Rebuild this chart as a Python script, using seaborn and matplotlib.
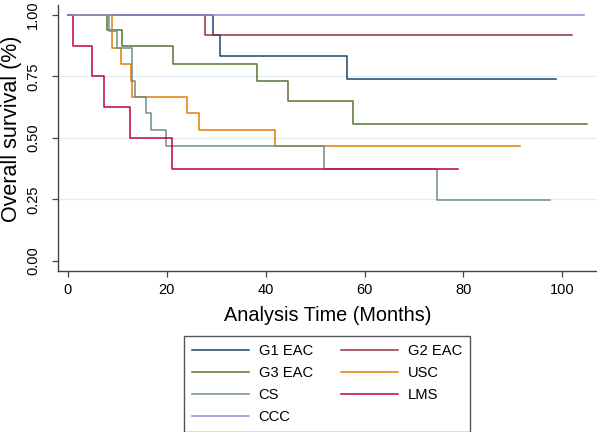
import numpy as np
import pandas as pd
import matplotlib
matplotlib.use("Agg")
import matplotlib.pyplot as plt
import seaborn as sb

# groups and Kaplan-Meier steps (event times in months, survival after each drop)
groups = ["G1 EAC", "G2 EAC", "G3 EAC", "USC", "CS", "LMS", "CCC"]
colors = ["#1a476f", "#90353b", "#55752f", "#e37e00", "#6e8e84", "#c10534", "#938dd2"]

g1_t = [29.4, 30.8, 56.4]
g1_s = [0.917, 0.833, 0.741]
g2_t = [27.8]
g2_s = [0.917]
g3_t = [8.0, 10.9, 21.2, 38.2, 44.5, 57.6]
g3_s = [0.9375, 0.875, 0.80, 0.73, 0.65, 0.555]
usc_t = [8.9, 10.8, 12.8, 13.1, 24.1, 26.5, 41.9]
usc_s = [0.867, 0.80, 0.733, 0.667, 0.60, 0.533, 0.467]
cs_t = [8.3, 9.9, 12.9, 13.7, 15.8, 16.8, 19.8, 51.9, 74.6]
cs_s = [0.933, 0.867, 0.733, 0.667, 0.60, 0.533, 0.467, 0.373, 0.249]
lms_t = [1.1, 4.85, 7.3, 12.5, 21.0]
lms_s = [0.875, 0.75, 0.625, 0.50, 0.375]
ccc_t = []
ccc_s = []

# last follow-up time of each group
end_t = [98.7, 101.9, 104.9, 91.4, 97.4, 78.8, 104.4]

x_ticks = [0, 20, 40, 60, 80, 100]
y_ticks = [0.0, 0.25, 0.5, 0.75, 1.0]

steps_t = [g1_t, g2_t, g3_t, usc_t, cs_t, lms_t, ccc_t]
steps_s = [g1_s, g2_s, g3_s, usc_s, cs_s, lms_s, ccc_s]

# build long table: start at (0, 1), each drop, then carry to the end time
rows = []
for name, ts, ss, te in zip(groups, steps_t, steps_s, end_t):
    rows.append((name, 0.0, 1.0))
    for t, s in zip(ts, ss):
        rows.append((name, t, s))
    last = ss[-1] if len(ss) else 1.0
    rows.append((name, te, last))
df = pd.DataFrame(rows, columns=["grupo", "tempo", "sobrevida"])

plt.rcParams['font.family'] = ['Liberation Sans', 'DejaVu Sans']

fig = plt.figure(figsize=(5.97, 4.32), dpi=100)
ax = fig.add_axes([58 / 597, 1 - 270.7 / 432, 1 - 58 / 597, (270.7 - 5) / 432])

# faint horizontal gridlines like Stata
for yv in y_ticks[1:-1]:
    ax.axhline(yv, color="#e3ecf3", lw=0.9, zorder=0)

sb.lineplot(data=df, x="tempo", y="sobrevida", hue="grupo", hue_order=groups,
            palette=colors, drawstyle="steps-post", estimator=None, sort=False,
            linewidth=1.1, ax=ax, legend=False)

ax.set_xlim(-1.96, 107.0)
ax.set_ylim(-0.0407, 1.0407)
ax.set_xticks(x_ticks)
ax.set_yticks(y_ticks)
ax.set_yticklabels(["%.2f" % v for v in y_ticks], rotation=90, va="center")
ax.tick_params(axis="both", labelsize=10.5, length=4, width=0.9, color="#444444")
ax.tick_params(axis="y", pad=9)
ax.tick_params(axis="x", pad=5)
ax.set_xlabel("Analysis Time (Months)", fontsize=14.3, labelpad=6)
ax.set_ylabel("Overall survival (%)", fontsize=15.5)
ax.yaxis.set_label_coords(-0.067, 0.535)

for lado in ["top", "right"]:
    ax.spines[lado].set_visible(False)
for lado in ["left", "bottom"]:
    ax.spines[lado].set_color("#444444")
    ax.spines[lado].set_linewidth(1.0)

# legend rows: G1/G2, G3/USC, CS/LMS, CCC  (matplotlib fills by column)
ordem = [0, 2, 4, 6, 1, 3, 5]
handles = [plt.Line2D([], [], color=colors[i], lw=1.1) for i in ordem]
labels = [groups[i] for i in ordem]
leg = fig.legend(handles, labels, ncol=2, loc="upper center",
                 bbox_to_anchor=(0.5476, 1 - 336 / 432), fontsize=10.6,
                 frameon=True, fancybox=False, framealpha=1, edgecolor="#555555",
                 handlelength=3.9, handletextpad=0.65, columnspacing=1.9,
                 labelspacing=0.55, borderpad=0.55, borderaxespad=0)
leg.get_frame().set_linewidth(1.0)

fig.savefig("out.png", dpi=100)
